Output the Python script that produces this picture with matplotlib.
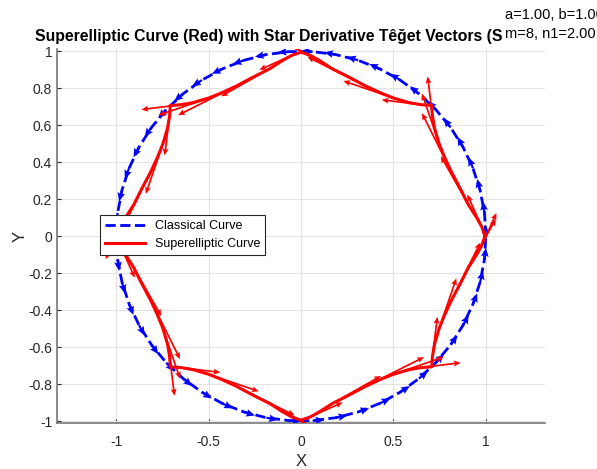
import numpy as np
import matplotlib.pyplot as plt

plt.rcParams['font.family'] = ['Liberation Sans', 'DejaVu Sans']

# classical curve: unit circle (a = b = 1), sample angles in degrees
classical_radius = 1.0
blue_theta_deg = [0, 7.2, 14.4, 21.6, 28.8, 36, 43.2, 50.4, 57.6, 64.8,
                  72, 79.2, 86.4, 93.6, 100.8, 108, 115.2, 122.4, 129.6, 136.8,
                  144, 151.2, 158.4, 165.6, 172.8, 180, 187.2, 194.4, 201.6, 208.8,
                  216, 223.2, 230.4, 237.6, 244.8, 252, 259.2, 266.4, 273.6, 280.8,
                  288, 295.2, 302.4, 309.6, 316.8, 324, 331.2, 338.4, 345.6, 352.8, 360]

# superelliptic curve, traced counter-clockwise from (1, 0)
red_x = [0.995, 0.978, 0.95, 0.905, 0.865, 0.812, 0.775, 0.747, 0.722, 0.711, 0.707,
         0.65, 0.585, 0.50, 0.43, 0.35, 0.25, 0.17, 0.10, 0.05, 0.00,
         -0.05, -0.10, -0.17, -0.25, -0.35, -0.43, -0.50, -0.585, -0.65, -0.707,
         -0.711, -0.722, -0.747, -0.775, -0.812, -0.865, -0.905, -0.95, -0.978, -0.995,
         -0.978, -0.95, -0.905, -0.865, -0.812, -0.775, -0.747, -0.722, -0.711, -0.707,
         -0.65, -0.585, -0.50, -0.43, -0.35, -0.25, -0.17, -0.10, -0.05, 0.00,
         0.05, 0.10, 0.17, 0.25, 0.35, 0.43, 0.50, 0.585, 0.65, 0.707,
         0.711, 0.722, 0.747, 0.775, 0.812, 0.865, 0.905, 0.95, 0.978, 0.995]
red_y = [0.00, 0.05, 0.10, 0.17, 0.25, 0.35, 0.43, 0.50, 0.585, 0.65, 0.707,
         0.711, 0.722, 0.747, 0.775, 0.812, 0.865, 0.905, 0.95, 0.978, 0.995,
         0.978, 0.95, 0.905, 0.865, 0.812, 0.775, 0.747, 0.722, 0.711, 0.707,
         0.65, 0.585, 0.50, 0.43, 0.35, 0.25, 0.17, 0.10, 0.05, 0.00,
         -0.05, -0.10, -0.17, -0.25, -0.35, -0.43, -0.50, -0.585, -0.65, -0.707,
         -0.711, -0.722, -0.747, -0.775, -0.812, -0.865, -0.905, -0.95, -0.978, -0.995,
         -0.978, -0.95, -0.905, -0.865, -0.812, -0.775, -0.747, -0.722, -0.711, -0.707,
         -0.65, -0.585, -0.50, -0.43, -0.35, -0.25, -0.17, -0.10, -0.05, 0.00]

params_text = "a=1.00, b=1.00\nm=8, n1=2.00"
title = "Superelliptic Curve (Red) with Star Derivative Têğet Vectors (S"

# blue points and tangent vectors
t = np.radians(blue_theta_deg)
bx = classical_radius * np.cos(t)
by = classical_radius * np.sin(t)
bu = np.gradient(bx) * 0.5
bv = np.gradient(by) * 0.5

# red tangent vectors (star derivative)
rx = np.array(red_x)
ry = np.array(red_y)
ru = np.gradient(rx) * 3.5
rv = np.gradient(ry) * 3.5

fig = plt.figure(figsize=(5.97, 4.69), dpi=100)
ax = fig.add_axes([0.0955, 0.098, 0.8175, 0.797])

ax.plot(bx, by, '--', color='blue', lw=2, label='Classical Curve', zorder=3)
ax.quiver(bx[:-1], by[:-1], bu[:-1], bv[:-1], color='blue', angles='xy',
          scale_units='xy', scale=1, width=0.0045, headwidth=3.5,
          headlength=4, headaxislength=3.5, zorder=3)
ax.plot(rx, ry, '-', color='red', lw=2.2, label='Superelliptic Curve', zorder=4)
ax.quiver(rx[1:-1:2], ry[1:-1:2], ru[1:-1:2], rv[1:-1:2], color='red', angles='xy',
          scale_units='xy', scale=1, width=0.0035, headwidth=3.5,
          headlength=4, headaxislength=3.5, zorder=4)

ax.set_xlim(-1.32, 1.32)
ax.set_ylim(-1.01, 1.01)
ax.set_aspect('equal')
ax.set_xticks([-1, -0.5, 0, 0.5, 1])
ax.set_xticklabels(['-1', '-0.5', '0', '0.5', '1'])
ax.set_yticks(np.arange(-1, 1.01, 0.2))
ax.set_yticklabels(['-1', '-0.8', '-0.6', '-0.4', '-0.2', '0', '0.2', '0.4', '0.6', '0.8', '1'])
ax.grid(True, color='#e3e3e3', lw=0.8)
ax.set_axisbelow(True)
ax.tick_params(direction='in', length=3, labelsize=10, colors='#262626')
ax.tick_params(axis='x', pad=9)
for s in ['top', 'right']:
    ax.spines[s].set_visible(False)
for s in ['left', 'bottom']:
    ax.spines[s].set_color('#777777')
    ax.spines[s].set_linewidth(1.2)

ax.set_xlabel('X', fontsize=12, color='#262626', labelpad=3)
ax.set_ylabel('Y', fontsize=12, color='#262626', labelpad=0)

fig.text(35 / 597, 1 - 37 / 469, title, fontsize=11.3, fontweight='bold',
         ha='left', va='center')

leg = ax.legend(loc='lower left', bbox_to_anchor=(0.088, 0.449), fontsize=9,
                fancybox=False, edgecolor='#262626', framealpha=1,
                borderaxespad=0, handlelength=3.2)
leg.get_frame().set_linewidth(0.8)

fig.text(505 / 597, 1 - 41 / 469, params_text, fontsize=10.5, ha='left', va='bottom',
         linespacing=1.45, bbox=dict(facecolor='white', edgecolor='none', pad=0))

fig.savefig('out.png', dpi=100)
